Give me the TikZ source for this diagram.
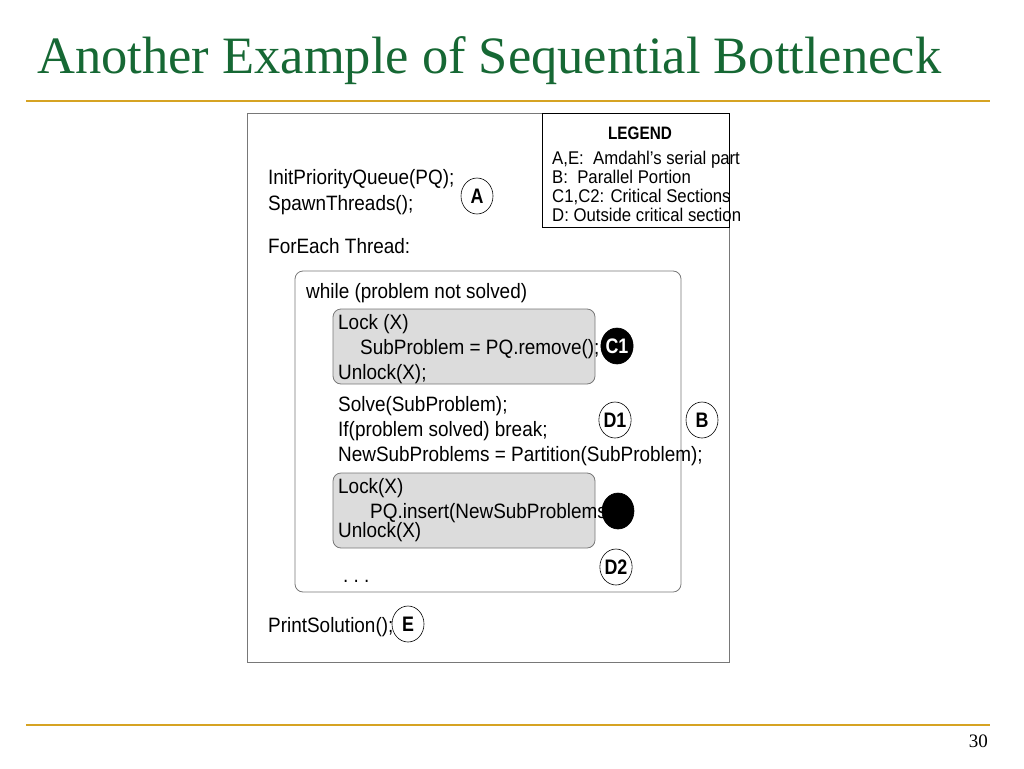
\documentclass[tikz,border=0pt]{standalone}
\usepackage{fontspec}
\usetikzlibrary{shapes.geometric}
\setmainfont{Liberation Serif}
\setsansfont{Liberation Sans}
\newfontfamily\codefont[FakeStretch=0.91]{Liberation Sans}
\newfontfamily\tagfont[FakeStretch=0.85]{Liberation Sans}
\definecolor{titlegreen}{RGB}{22,104,52}
\definecolor{rulegold}{RGB}{214,163,35}
\definecolor{boxgray}{RGB}{120,120,120}
\definecolor{csfill}{RGB}{220,220,220}
\tikzset{
  code/.style={anchor=base west,inner sep=0pt,font=\codefont\fontsize{20.8}{24}\selectfont},
  leg/.style={anchor=base west,inner sep=0pt,font=\codefont\fontsize{18.4}{21}\selectfont},
  tag/.style={ellipse,draw=black,line width=0.6pt,minimum width=32pt,minimum height=36pt,inner sep=0pt,font=\tagfont\bfseries\fontsize{21}{24}\selectfont},
  blacktag/.style={tag,fill=black,text=white},
  csbox/.style={draw=boxgray,fill=csfill,rounded corners=8pt,line width=0.8pt},
}
\begin{document}
\begin{tikzpicture}[x=1pt,y=-1pt]
\useasboundingbox (0,0) rectangle (1024,768);
% title
\node[anchor=base west,inner sep=0pt,text=titlegreen,font=\fontsize{52.5}{60}\selectfont] (title) at (37,73) {Another Example of Sequential Bottleneck};
\draw[rulegold,line width=2pt] (26,101) -- (990,101);
\draw[rulegold,line width=2pt] (26,725) -- (990,725);
\node[anchor=base east,inner sep=0pt,font=\fontsize{19}{22}\selectfont] (page) at (988,747) {30};
% main box
\draw[boxgray,line width=0.8pt] (247,113) rectangle (729,662);
% code
\node[code] (l1) at (268,184) {InitPriorityQueue(PQ);};
\node[code] (l2) at (268,210) {SpawnThreads();};
\node[code] (l3) at (268,253) {ForEach Thread:};
\node[tag] (A) at (477,196) {A};
% while box
\draw[boxgray,line width=0.8pt,rounded corners=8pt] (295,271) rectangle (681,592);
\node[code] (w) at (306,298) {while (problem not solved)};
\draw[csbox] (333,309) rectangle (595,384);
\node[code] (c1a) at (338,329) {Lock (X)};
\node[code] (c1b) at (360,354) {SubProblem = PQ.remove();};
\node[code] (c1c) at (338,379) {Unlock(X);};
\node[blacktag] (C1) at (617,346) {C1};
\node[code] (s1) at (338,411) {Solve(SubProblem);};
\node[code] (s2) at (338,436) {If(problem solved) break;};
\node[code] (s3) at (338,461) {NewSubProblems = Partition(SubProblem);};
\node[tag] (D1) at (615,420) {D1};
\node[tag] (B) at (702,420) {B};
\draw[csbox] (333,473) rectangle (595,548);
\node[code] (c2a) at (338,493) {Lock(X)};
\node[code] (c2b) at (370,518) {PQ.insert(NewSubProblems};
\node[code] (c2c) at (338,537) {Unlock(X)};
\node[blacktag] (C2) at (618,511) {};
\node[tag] (D2) at (616,567) {D2};
\node[code] (dots) at (343,582) {.\ .\ .};
\node[code] (ps) at (268,632) {PrintSolution();};
\node[tag,fill=white] (E) at (408,624) {E};
% legend
\node[anchor=base,inner sep=0pt,font=\tagfont\bfseries\fontsize{18}{20}\selectfont] (lt) at (640,139) {LEGEND};
\node[leg] (g1) at (552,164) {A,E:\ \ Amdahl’s serial part};
\node[leg] (g2) at (552,183) {B:\ \ Parallel Portion};
\node[leg] (g3) at (552,202) {C1,C2: Critical Sections};
\node[leg] (g4) at (552,221) {D: Outside critical section};
\draw[black,line width=0.8pt] (542,113) rectangle (729,227);
\end{tikzpicture}
\end{document}
